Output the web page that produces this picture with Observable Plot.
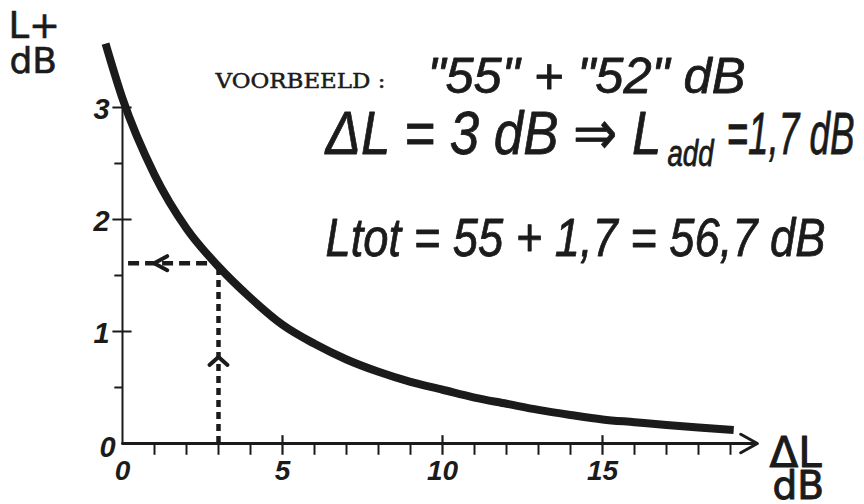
<!DOCTYPE html>
<html><head><meta charset="utf-8">
<script src="https://cdn.jsdelivr.net/npm/d3@7"></script>
<script src="https://cdn.jsdelivr.net/npm/@observablehq/plot@0.6"></script>
<style>body{margin:0;background:#fff} svg{display:block}</style>
</head><body><div id="chart"></div>
<script>
// curve: ΔL (dB) -> L+ (dB)
const deltaL = [-0.53, 0, 1, 2, 3, 4, 5, 6, 7, 8, 9, 10, 11, 12, 13, 14, 15, 16, 17, 18, 19.1];
const lPlus  = [3.57, 3.08, 2.40, 1.92, 1.58, 1.30, 1.06, 0.89, 0.75, 0.64, 0.55, 0.48, 0.41, 0.355, 0.30, 0.255, 0.215, 0.19, 0.165, 0.142, 0.12];
const xMinorTicks = [1,2,3,4,6,7,8,9,11,12,13,14,16,17,18,19];
const xMajorTicks = [5,10,15];
const xTickLabels = ["0","5","10","15"];
const yMajorTicks = [1,2,3];
const yMinorTicks = [0.5,1.5,2.5];
const yTickLabels = ["1","2","3"];
const yZeroLabel = ["0"];
const exampleDeltaL = 3;
const exampleLadd = 1.61;
const xAxisEnd = 19.84;
const yAxisEnd = 3;
const yLabel = ["L+","dB"];
const xLabel = ["ΔL","dB"];
const noteTitle = "VOORBEELD :";
const noteLine1 = "\"55\" + \"52\" dB";
const noteLine2a = "ΔL = 3 dB ⇒ L";
const noteLine2sub = "add";
const noteLine2b = "=1,7 dB";
const noteLine3 = "Ltot = 55 + 1,7 = 56,7 dB";

const curve = deltaL.map((x, i) => ({x, y: lPlus[i]}));
const ink = "#1b1b1b";
const hand = "'Liberation Sans', 'DejaVu Sans', sans-serif";
const letter = "'DejaVu Sans', sans-serif";

// scales (pixels per data unit used to size the little chevrons)
const xDomain = [0, 19], xRange = [122, 730];
const yDomain = [0, 3], yRange = [443, 107];
const pxX = (xRange[1] - xRange[0]) / (xDomain[1] - xDomain[0]);
const pxY = (yRange[0] - yRange[1]) / (yDomain[1] - yDomain[0]);
// chevron pointing left on the horizontal read-off line, pointing up on the vertical one
const leftTip = {x: exampleDeltaL * 0.33, y: exampleLadd};
const upTip = {x: exampleDeltaL, y: exampleLadd * 0.48};
const chevLeft = [
  {x: leftTip.x + 13 / pxX, y: leftTip.y + 7 / pxY},
  {x: leftTip.x, y: leftTip.y},
  {x: leftTip.x + 13 / pxX, y: leftTip.y - 7 / pxY}
];
const chevUp = [
  {x: upTip.x - 9 / pxX, y: upTip.y - 8 / pxY},
  {x: upTip.x, y: upTip.y},
  {x: upTip.x + 9 / pxX, y: upTip.y - 8 / pxY}
];

const plot = Plot.plot({
  width: 864, height: 504,
  marginTop: 0, marginLeft: 0, marginRight: 0, marginBottom: 0,
  style: {background: "#fff", overflow: "visible"},
  x: {domain: xDomain, range: xRange, axis: null},
  y: {domain: yDomain, range: yRange, axis: null},
  marks: [
    // axes
    Plot.ruleX([0], {y1: 0, y2: yAxisEnd, stroke: ink, strokeWidth: 2}),
    Plot.arrow([xAxisEnd], {x1: 0, x2: d => d, y1: 0, y2: 0, stroke: ink, strokeWidth: 3, headLength: 9.5, headAngle: 58}),
    Plot.ruleX(xMinorTicks, {x: d => d, y1: 0, y2: -0.105, stroke: ink, strokeWidth: 2}),
    Plot.ruleX(xMajorTicks, {x: d => d, y1: 0.07, y2: -0.105, stroke: ink, strokeWidth: 2.2}),
    Plot.ruleY(yMajorTicks, {y: d => d, x1: -0.3, x2: 0.3, stroke: ink, strokeWidth: 2}),
    Plot.ruleY(yMinorTicks, {y: d => d, x1: -0.24, x2: 0, stroke: ink, strokeWidth: 2}),
    Plot.text(xTickLabels, {x: d => +d, y: 0, dy: 28, text: d => d, fontSize: 28, fontStyle: "italic", fontWeight: "bold", fontFamily: hand, fill: ink}),
    Plot.text(yTickLabels, {x: 0, y: d => +d, dx: -21, dy: 2, text: d => d, fontSize: 29, fontStyle: "italic", fontWeight: "bold", fontFamily: hand, fill: ink}),
    Plot.text(yZeroLabel, {x: 0, y: d => +d, dx: -15, dy: 4, text: d => d, fontSize: 29, fontStyle: "italic", fontWeight: "bold", fontFamily: hand, fill: ink}),
    // example construction
    Plot.ruleY([exampleLadd], {y: d => d, x1: 0.19, x2: exampleDeltaL, stroke: ink, strokeWidth: 4.5, strokeDasharray: "11,6"}),
    Plot.ruleX([exampleDeltaL], {x: d => d, y1: 0, y2: exampleLadd, stroke: ink, strokeWidth: 4.5, strokeDasharray: "7,5"}),
    Plot.line(chevLeft, {x: "x", y: "y", stroke: ink, strokeWidth: 4, strokeLinejoin: "miter"}),
    Plot.line(chevUp, {x: "x", y: "y", stroke: ink, strokeWidth: 4, strokeLinejoin: "miter"}),
    // curve
    Plot.line(curve, {x: "x", y: "y", curve: "monotone-x", stroke: ink, strokeWidth: 8, strokeLinecap: "butt"}),
    // axis titles
    Plot.text([yLabel[0]], {frameAnchor: "top-left", dx: 8, dy: 37, lineAnchor: "bottom", textAnchor: "start", text: d => d, fontSize: 37, fontFamily: letter, fill: ink, stroke: ink, strokeWidth: 0.6}),
    Plot.text([yLabel[1]], {frameAnchor: "top-left", dx: 9, dy: 72, lineAnchor: "bottom", textAnchor: "start", text: d => d, fontSize: 36, fontFamily: letter, fill: ink, stroke: ink, strokeWidth: 0.6}),
    Plot.text([xLabel[0]], {frameAnchor: "top-left", dx: 769, dy: 466, lineAnchor: "bottom", textAnchor: "start", text: d => d, fontSize: 42, fontFamily: letter, fill: ink, stroke: ink, strokeWidth: 1}),
    Plot.text([xLabel[1]], {frameAnchor: "top-left", dx: 772, dy: 498, lineAnchor: "bottom", textAnchor: "start", text: d => d, fontSize: 39, fontFamily: letter, fill: ink, stroke: ink, strokeWidth: 1}),
    // worked example
    Plot.text([noteTitle], {frameAnchor: "top-left", dx: 215, dy: 87, lineAnchor: "bottom", textAnchor: "start", text: d => d, fontSize: 21, fontFamily: "'DejaVu Serif', serif", fill: ink, stroke: ink, strokeWidth: 0.5}),
    Plot.text([noteLine1], {frameAnchor: "top-left", dx: 427, dy: 92, lineAnchor: "bottom", textAnchor: "start", text: d => d, fontSize: 50, fontStyle: "italic", fontFamily: hand, fill: ink, stroke: ink, strokeWidth: 0.8}),
    Plot.text([noteLine2a], {frameAnchor: "top-left", dx: 325, dy: 153, lineAnchor: "bottom", textAnchor: "start", text: d => d, fontSize: 62, fontStyle: "italic", fontFamily: hand, fill: ink, stroke: ink, strokeWidth: 0.8}),
    Plot.text([noteLine2sub], {frameAnchor: "top-left", dx: 667, dy: 165, lineAnchor: "bottom", textAnchor: "start", text: d => d, fontSize: 36, fontStyle: "italic", fontFamily: hand, fill: ink, stroke: ink, strokeWidth: 0.8}),
    Plot.text([noteLine2b], {frameAnchor: "top-left", dx: 726, dy: 153, lineAnchor: "bottom", textAnchor: "start", text: d => d, fontSize: 60, fontStyle: "italic", fontFamily: hand, fill: ink, stroke: ink, strokeWidth: 0.8}),
    Plot.text([noteLine3], {frameAnchor: "top-left", dx: 325, dy: 255, lineAnchor: "bottom", textAnchor: "start", text: d => d, fontSize: 54, fontStyle: "italic", fontFamily: hand, fill: ink, stroke: ink, strokeWidth: 0.8})
  ]
});

// fit the hand-lettered lines to the widths they take in the drawing
const widths = new Map([
  [noteTitle, 170], [noteLine1, 318], [noteLine2a, 336], [noteLine2sub, 46],
  [noteLine2b, 128], [noteLine3, 500]
]);
plot.querySelectorAll("text").forEach(t => {
  const w = widths.get(t.textContent);
  if (w) { t.setAttribute("textLength", w); t.setAttribute("lengthAdjust", "spacingAndGlyphs"); }
});
document.getElementById("chart").appendChild(plot);
</script>
</body></html>
